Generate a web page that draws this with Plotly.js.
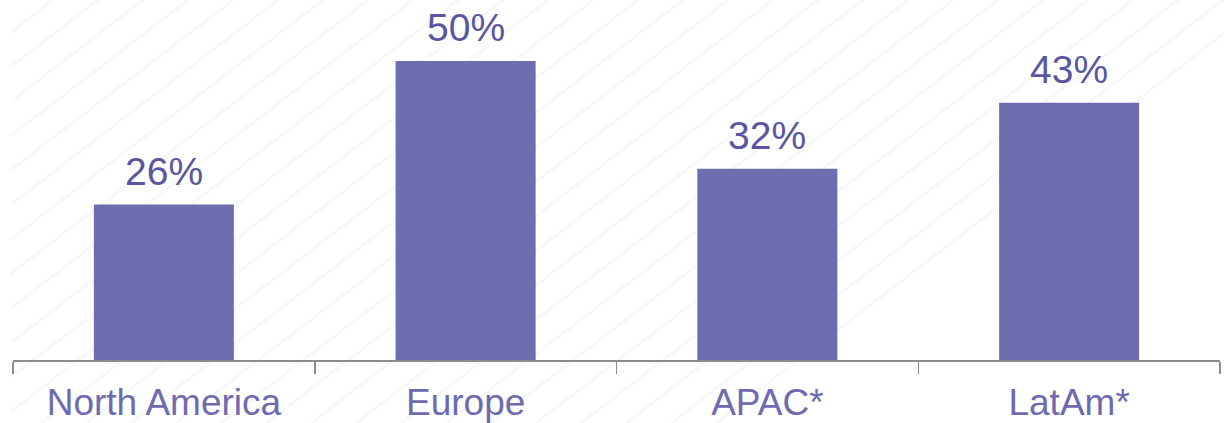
<!DOCTYPE html>
<html>
<head>
<meta charset="utf-8">
<script src="https://cdn.plot.ly/plotly-3.0.1.min.js"></script>
<style>html,body{margin:0;padding:0;background:#fff;}#chart{width:1224px;height:423px;}</style>
</head>
<body>
<div id="chart"></div>
<script>
const categories = ["North America", "Europe", "APAC*", "LatAm*"];
const values = [26, 50, 32, 43];
const valueLabels = ["26%", "50%", "32%", "43%"];

// faint diagonal stripe background (decoration)
function stripeSVG() {
  let s = '<svg xmlns="http://www.w3.org/2000/svg" width="1224" height="423">';
  s += '<defs><clipPath id="c"><rect x="11" y="0" width="1213" height="423"/></clipPath></defs><g clip-path="url(#c)">';
  const dx = 423 * 45 / 34.5;
  for (let x0 = 53 - 45 * 14; x0 < 1300; x0 += 45) {
    s += '<line x1="' + (x0 - dx) + '" y1="423" x2="' + x0 + '" y2="0" stroke="#f8f8f8" stroke-width="3"/>';
  }
  s += '</g></svg>';
  return 'data:image/svg+xml;base64,' + btoa(s);
}

const L = 13, R = 4, T = 0, B = 63;
const pw = 1224 - L - R, ph = 423 - T - B;

const trace = {
  type: "bar",
  x: categories,
  y: values,
  marker: {color: "#6E6DAF"},
  hoverinfo: "none"
};

const annotations = categories.map((c, i) => ({
  x: c, y: values[i], xref: "x", yref: "y",
  text: valueLabels[i], showarrow: false,
  yanchor: "bottom", yshift: 10,
  font: {family: "Liberation Sans, Arial, sans-serif", size: 39, color: "#5A55A0"}
}));

const layout = {
  width: 1224, height: 423,
  margin: {l: L, r: R, t: T, b: B, pad: 0},
  paper_bgcolor: "#ffffff",
  plot_bgcolor: "rgba(0,0,0,0)",
  bargap: 0.536,
  showlegend: false,
  xaxis: {
    type: "category",
    range: [-0.5, 3.5],
    showline: true, linecolor: "#8C8C8C", linewidth: 1.5,
    ticks: "outside", tickson: "boundaries", ticklen: 12, tickcolor: "#8C8C8C", tickwidth: 1.5,
    ticklabelstandoff: 9,
    showgrid: false, zeroline: false,
    tickfont: {family: "Liberation Sans, Arial, sans-serif", size: 37, color: "#6E6AB0"}
  },
  yaxis: {
    range: [0, ph / 5.98],
    visible: false, showgrid: false, zeroline: false
  },
  annotations: annotations,
  images: [{
    source: stripeSVG(), xref: "paper", yref: "paper",
    x: -L / pw, y: 1 + T / ph, sizex: 1224 / pw, sizey: 423 / ph,
    xanchor: "left", yanchor: "top", sizing: "stretch", layer: "below"
  }]
};

Plotly.newPlot("chart", [trace], layout, {staticPlot: true, displayModeBar: false});
</script>
</body>
</html>
